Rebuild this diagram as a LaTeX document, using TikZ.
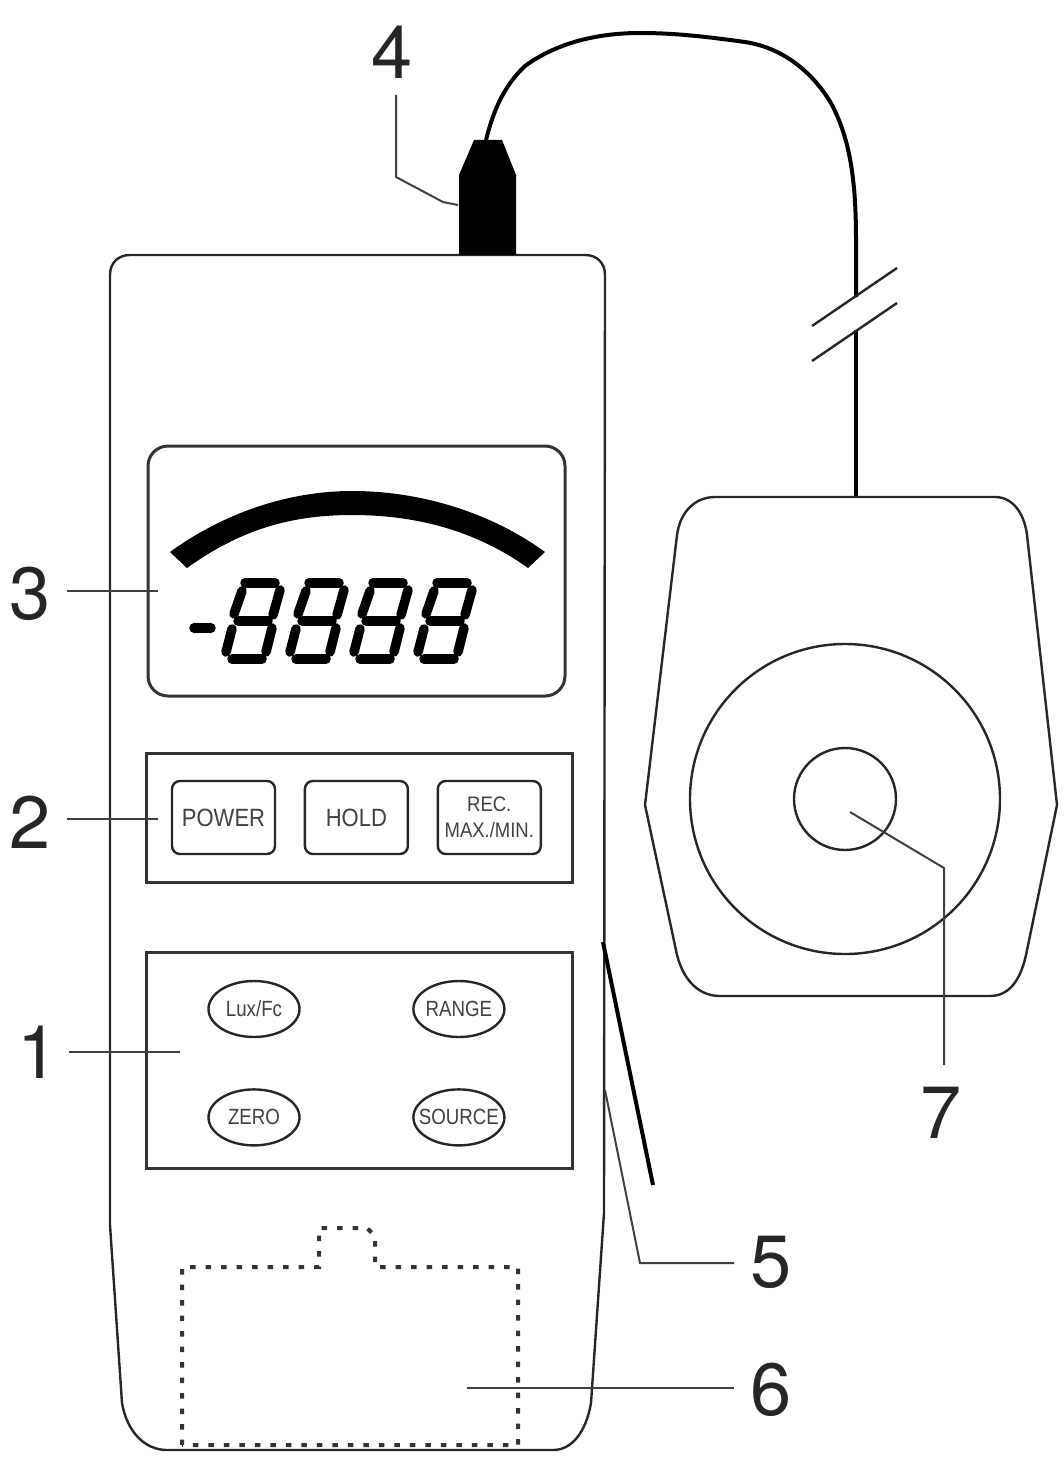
\documentclass[tikz,border=0pt]{standalone}
\usepackage{graphicx}
\usepackage{fontspec}
\setmainfont{Liberation Sans}
\newfontfamily\digitfont{TeX Gyre Heros}
\usepackage{xcolor}
\usetikzlibrary{arrows.meta,positioning,shapes.geometric,calc}
\newcommand{\slimbtn}[1]{\scalebox{.88}[1]{#1}}
\newcommand{\slimkey}[1]{\makebox[0pt]{\scalebox{.85}[1]{#1}}}

\begin{document}
\begin{tikzpicture}[x=1pt,y=-1pt,
  outline/.style={draw=black!85,line width=2.4pt},
  panel/.style={draw=black!80,line width=3pt},
  lead/.style={draw=black!75,line width=2pt},
  num/.style={font=\digitfont\fontsize{74}{74}\selectfont,inner sep=16pt,text=black!85},
  btn/.style={outline,rounded corners=8pt,minimum width=103pt,minimum height=73pt,inner sep=0pt,
    align=center,text=black!75,font=\fontsize{25}{27}\selectfont},
  key/.style={outline,ellipse,minimum width=91pt,minimum height=56pt,inner sep=0pt,
    text=black!75,font=\fontsize{22}{24}\selectfont},
  seg/.style={line width=9.5pt,line cap=round,black}]
  \useasboundingbox (0,0) rectangle (1064,1471);
  % meter body
  \draw[outline] (130,255) -- (585,255) .. controls (597,255) and (605,263) .. (605,275)
    -- (604,1213) -- (591,1403) .. controls (586,1432) and (572,1450) .. (553,1450)
    -- (167,1450) .. controls (145,1450) and (127,1432) .. (122,1403)
    -- (110,1225) -- (110,275) .. controls (110,263) and (118,255) .. (130,255) -- cycle;
  % plug and cable
  \fill[black] (459,255) -- (459,175) -- (474,140) -- (502,140) -- (516,175) -- (516,255) -- cycle;
  \coordinate (plug) at (486,140);
  \coordinate (cut1) at (856,297);
  \coordinate (cut2) at (856,330);
  \coordinate (head) at (856,497);
  \draw[line width=4pt] (plug) .. controls (494,108) and (505,85) .. (525,66)
    .. controls (555,44) and (595,33) .. (640,33)
    .. controls (680,33) and (715,38) .. (745,42)
    .. controls (785,48) and (815,75) .. (832,105)
    .. controls (850,140) and (856,180) .. (856,240) -- (cut1);
  \draw[line width=4pt] (cut2) -- (head);
  \draw[outline] (812,326) -- (897,268);
  \draw[outline] (812,361) -- (897,303);
  % display
  \draw[panel,rounded corners=20pt] (148,446) rectangle (565,696);
  \fill[black] (170,552) .. controls (225,512) and (290,491) .. (352,491)
    .. controls (420,491) and (490,512) .. (545,552) -- (528,568)
    .. controls (475,530) and (415,515) .. (352,515)
    .. controls (290,515) and (240,530) .. (187,568) -- cycle;
  \draw[seg] (194,628) -- (211,628);
  \foreach \dx in {253,317,381,445}
    \foreach \ax/\ay/\bx/\by in {-8/-38/22/-38,-15/0/15/0,-21/38/9/38,27/-31/20/-6,
      -11/-30/-19/-7,19/7/13/31,-21/8/-27/31}
      \draw[seg,shift={(\dx,621)}] (\ax,\ay) -- (\bx,\by);
  % buttons
  \draw[panel] (146,753) rectangle (572,882);
  \node[btn] (power) at (223.5,817.5) {\slimbtn{POWER}};
  \node[btn,right=27.5pt of power] (hold) {\slimbtn{HOLD}};
  \node[btn,right=27.5pt of hold,font=\fontsize{21}{26}\selectfont] (rec) {\slimbtn{REC.}\\\slimbtn{MAX./MIN.}};
  \draw[panel] (146,952) rectangle (572,1168);
  \node[key] (lux) at (254,1009) {\slimkey{Lux/Fc}};
  \node[key,right=111.5pt of lux] (range) {\slimkey{RANGE}};
  \node[key,below=50pt of lux] (zero) {\slimkey{ZERO}};
  \node[key,below=50pt of range] (source) {\slimkey{SOURCE}};
  % battery cover
  \draw[black!80,line width=4pt,dash pattern=on 5.5pt off 10pt]
    (182,1445) -- (182,1267) -- (319,1267) -- (319,1228) -- (367,1228) -- (375,1236)
    -- (375,1267) -- (518,1267) -- (518,1445) -- cycle;
  % tilt stand
  \draw[line width=4pt] (603,942) -- (653,1185);
  % sensor head
  \draw[outline] (715,497) -- (995,497) .. controls (1012,497) and (1024,512) .. (1027,535)
    -- (1057,805) -- (1026,955) .. controls (1020,982) and (1008,996) .. (990,996)
    -- (720,996) .. controls (700,996) and (684,982) .. (677,955)
    -- (645,805) -- (677,535) .. controls (680,512) and (695,497) .. (715,497) -- cycle;
  \node[outline,circle,minimum size=310pt,inner sep=0pt] (dome) at (845,799) {};
  \node[outline,circle,minimum size=102pt,inner sep=0pt] (cell) at (845,799) {};
  % labels
  \node[num,inner xsep=10pt] (lab1) at (38,1052) {1};
  \node[num] (lab2) at (30,822) {2};
  \node[num] (lab3) at (30,594) {3};
  \node[num] (lab4) at (392,52) {4};
  \node[num] (lab5) at (771,1262) {5};
  \node[num] (lab6) at (771,1390) {6};
  \node[num] (lab7) at (941,1113) {7};
  \coordinate (to1) at (180,1052);
  \coordinate (to2) at (158,819);
  \coordinate (to3) at (158,591);
  \coordinate (to4) at (458,205);
  \coordinate (to5) at (605,1090);
  \coordinate (to6) at (467,1388);
  \coordinate (to7) at (850,812);
  \draw[lead] (lab1.east |- to1) -- (to1);
  \draw[lead] (lab2.east |- to2) -- (to2);
  \draw[lead] (lab3.east |- to3) -- (to3);
  \draw[lead] (396,95) -- (396,177) -- (443,202) -- (to4);
  \draw[lead] (lab5.west |- 0,1263) -- (640,1263) -- (to5);
  \draw[lead] (lab6.west |- to6) -- (to6);
  \draw[lead] (to7) -- (944,868) -- (944,1065);
\end{tikzpicture}
\end{document}
